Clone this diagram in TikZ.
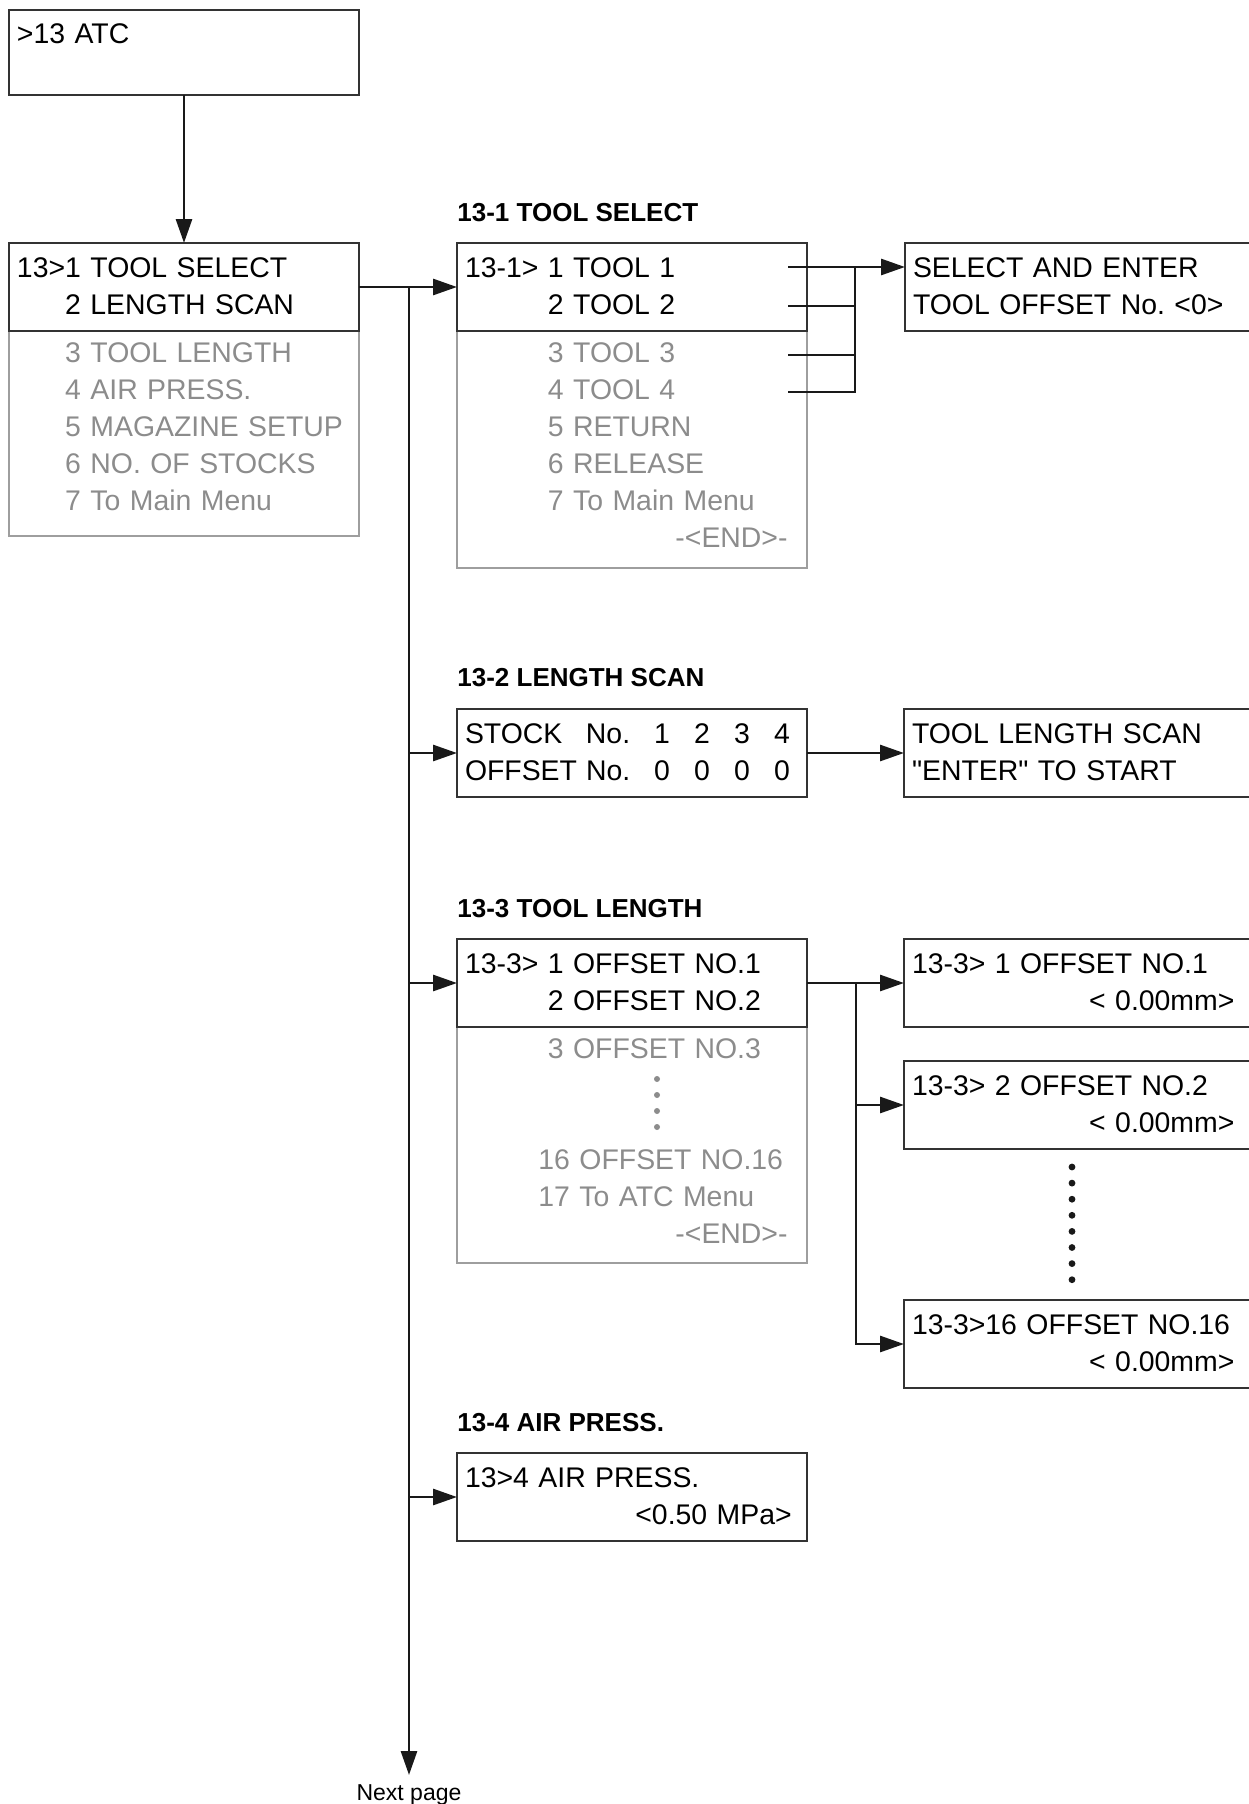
\documentclass[tikz,border=0pt]{standalone}
\usepackage{fontspec}
\setmainfont{Liberation Sans}
\usetikzlibrary{positioning,arrows.meta}

\definecolor{boxline}{gray}{0.2}
\definecolor{dimline}{gray}{0.62}
\definecolor{dimtext}{gray}{0.55}

\newcommand\stockcell[1]{\makebox[20pt]{#1}}
\newcommand\stockrow[5]{\makebox[60.5pt][l]{#1}\makebox[28pt][l]{No.}\stockcell{#2}\stockcell{#3}\stockcell{#4}\stockcell{#5}}
\newcommand\flushto[2]{\hspace*{0pt plus 1filll}#2\kern#1\null}
\newcommand\plainquote{\XeTeXglyph\XeTeXcharglyph"22\relax}

\begin{document}
\begin{tikzpicture}[
  x=0.5pt, y=-0.5pt,
  font=\fontsize{14.2pt}{18.5pt}\selectfont,
  box/.style = {
    rectangle, draw=boxline, line width=0.9pt, outer sep=0pt,
    inner xsep=4pt, inner ysep=0pt, text width=167pt, align=left,
  },
  head/.style = {box, text height=17pt, text depth=27pt},
  rest/.style = {box, draw=dimline, text=dimtext, text height=15.5pt},
  wide/.style = {head, text width=170pt},
  title/.style = {font=\fontsize{13pt}{15pt}\selectfont\bfseries, inner sep=0pt},
  note/.style = {font=\fontsize{11.5pt}{13pt}\selectfont, inner sep=0pt},
  link/.style = {line width=1.4pt, draw=black!90},
  arrow/.style = {link, -{Triangle[length=12pt,width=8pt]}},
]
  \useasboundingbox (0,0) rectangle (1248,1804);

  % main menu
  \node[rest, text depth=87pt, anchor=north west] (menulow) at (9,331) {
    \phantom{13>}3 TOOL LENGTH\\
    \phantom{13>}4 AIR PRESS.\\
    \phantom{13>}5 MAGAZINE SETUP\\
    \phantom{13>}6 NO. OF STOCKS\\
    \phantom{13>}7 To Main Menu};
  \node[head, above=0pt of menulow] (menu) {13>1 TOOL SELECT\\\phantom{13>}2 LENGTH SCAN};
  \node[head, text height=16.5pt, text depth=26pt, above=74pt of menu] (atc) {>13 ATC};

  % 13-1
  \node[rest, text depth=103pt, anchor=north west] (sellow) at (457,331) {
    \phantom{13-1> }3 TOOL 3\\
    \phantom{13-1> }4 TOOL 4\\
    \phantom{13-1> }5 RETURN\\
    \phantom{13-1> }6 RELEASE\\
    \phantom{13-1> }7 To Main Menu\\
    \flushto{5.75pt}{-<END>-}};
  \node[head, above=0pt of sellow] (sel) {13-1> 1 TOOL 1\\\phantom{13-1> }2 TOOL 2};
  \node[title, above=11pt of sel.north west, anchor=base west] (tsel) {13-1 TOOL SELECT};
  \node[wide, right=49pt of sel] (selmsg) {SELECT AND ENTER\\TOOL OFFSET No.\ <0>};

  % 13-2
  \node[head, anchor=north west] (scan) at (457,709) {
    \stockrow{STOCK}{1}{2}{3}{4}\\
    \stockrow{OFFSET}{0}{0}{0}{0}};
  \node[title, above=11.5pt of scan.north west, anchor=base west] (tscan) {13-2 LENGTH SCAN};
  \node[wide, right=48.5pt of scan] (scanmsg) {TOOL LENGTH SCAN\\\plainquote ENTER\plainquote{} TO START};

  % 13-3
  \node[rest, text depth=102.5pt, anchor=north west] (lenlow) at (457,1027) {
    \phantom{13-3> }3 OFFSET NO.3\\[37pt]
    \phantom{13-3>}16 OFFSET NO.16\\
    \phantom{13-3>}17 To ATC Menu\\
    \flushto{5.75pt}{-<END>-}};
  \node[head, above=0pt of lenlow] (len) {13-3> 1 OFFSET NO.1\\\phantom{13-3> }2 OFFSET NO.2};
  \node[title, above=11pt of len.north west, anchor=base west] (tlen) {13-3 TOOL LENGTH};
  \node[wide, right=48.5pt of len] (ofs1) {13-3> 1 OFFSET NO.1\\\flushto{8.8pt}{< 0.00mm>}};
  \node[wide, below=17pt of ofs1] (ofs2) {13-3> 2 OFFSET NO.2\\\flushto{8.8pt}{< 0.00mm>}};
  \node[wide, below=75.5pt of ofs2] (ofs16) {13-3>16 OFFSET NO.16\\\flushto{8.8pt}{< 0.00mm>}};
  \foreach \y in {1079,1095,1111,1127}
    \fill[dimtext] (657,\y) circle (1.5pt);
  \foreach \k in {0,...,7}
    \fill[black!90] (1072,{1167+16.1*\k}) circle (1.7pt);

  % 13-4
  \node[head, anchor=north west] (air) at (457,1453) {13>4 AIR PRESS.\\\flushto{3.65pt}{<0.50 MPa>}};
  \node[title, above=11pt of air.north west, anchor=base west] (tair) {13-4 AIR PRESS.};

  \coordinate (next) at (409,1775);
  \node[note, below=12.5pt of next, anchor=base] (nextlbl) {Next page};

  \draw[arrow] (atc) -- (menu);
  \draw[arrow] (menu) -- (sel);
  \draw[arrow] (menu.east -| next) -- (next);
  \draw[arrow] (scan.west -| next) -- (scan.west);
  \draw[arrow] (len.west -| next) -- (len.west);
  \draw[arrow] (air.west -| next) -- (air.west);

  \foreach \y [count=\i] in {267,306,355,392}
    \coordinate (tool\i) at (788,\y);
  \coordinate (jsel) at (855,267);
  \draw[link] (tool4) -| (jsel);
  \foreach \i in {2,3}
    \draw[link] (tool\i) -- (tool\i -| jsel);
  \draw[arrow] (tool1) -- (tool1 -| selmsg.west);

  \draw[arrow] (scan) -- (scanmsg);

  \coordinate[right=24.5pt of len.east] (jlen);
  \draw[arrow] (len) -- (ofs1);
  \draw[arrow] (jlen) |- (ofs16.west);
  \draw[arrow] (jlen |- ofs2.west) -- (ofs2.west);
\end{tikzpicture}
\end{document}
